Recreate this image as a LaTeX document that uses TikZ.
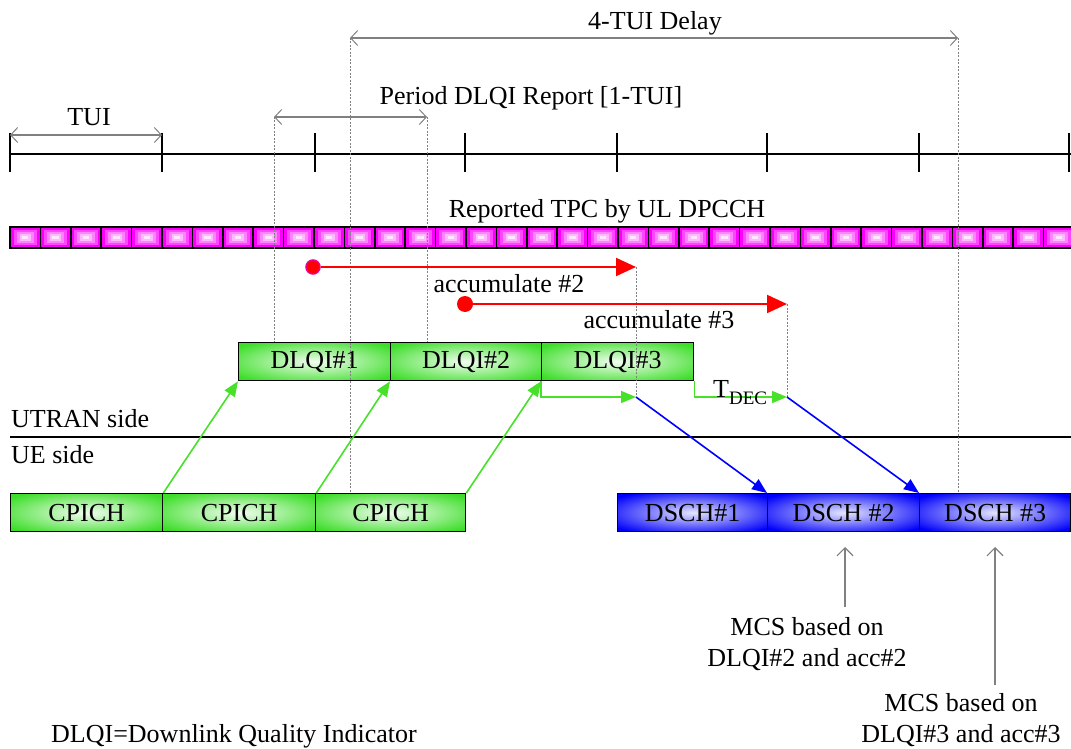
\documentclass[tikz,border=0pt]{standalone}
\usepackage{fontspec}
\setmainfont{Liberation Serif}
\usetikzlibrary{arrows.meta}
\definecolor{boxgreen}{RGB}{60,222,40}
\definecolor{boxblue}{RGB}{0,0,250}
\definecolor{linegreen}{RGB}{70,225,40}
\definecolor{tpcA}{RGB}{250,0,250}
\definecolor{tpcB}{RGB}{255,70,255}
\definecolor{tpcC}{RGB}{255,130,255}
\definecolor{tpcD}{RGB}{255,185,255}
\definecolor{tpcE}{RGB}{255,230,255}
\begin{document}
\begin{tikzpicture}[x=1pt,y=-1pt,
  font=\fontsize{26}{31}\selectfont,
  greenslot/.style={draw=black, line width=1.3pt, fill=boxgreen,
    minimum height=38pt, inner sep=0pt, anchor=north west,
    path picture={\shade[inner color=boxgreen!6!white, outer color=boxgreen]
      (path picture bounding box.center) ellipse [x radius=98pt, y radius=24pt];}},
  blueslot/.style={draw=black, line width=1.3pt, fill=boxblue,
    minimum height=38pt, inner sep=0pt, anchor=north west,
    path picture={\shade[inner color=boxblue!10!white, outer color=boxblue]
      (path picture bounding box.center) ellipse [x radius=98pt, y radius=24pt];}},
  guide/.style={draw=gray, line width=1pt, dash pattern=on 2pt off 1.5pt},
  span/.style={draw=gray, line width=1.2pt,
    {Straight Barb[length=7pt,width=15pt,line width=1pt]}-{Straight Barb[length=7pt,width=15pt,line width=1pt]}},
  pointer/.style={draw=gray, line width=1.6pt,
    -{Straight Barb[length=8pt,width=16pt,line width=1.2pt]}},
  redarrow/.style={draw=red, line width=2pt, -{Triangle[length=20pt,width=18pt]}},
  greenarrow/.style={draw=linegreen, line width=1.6pt, -{Triangle[length=15pt,width=12pt]}},
  bluearrow/.style={draw=blue, line width=1.6pt, -{Triangle[length=15pt,width=12pt]}},
  label/.style={inner sep=0pt}
]
\useasboundingbox (0,0) rectangle (1071,749);
\clip (0,0) rectangle (1071,749);

% --- time axis with TUI ticks ---
\coordinate (ax0) at (10,154);
\coordinate (ax1) at (1071,154);
\draw[line width=1.5pt] (ax0) -- (ax1);
\foreach \t in {10,162,315,465,617,767,919,1069}
  \draw[line width=1.5pt] (\t,133) -- (\t,172);

% --- span markers ---
\coordinate (tuiA) at (10,135);
\coordinate (tuiB) at (162,135);
\draw[span] (tuiA) -- (tuiB);
\node[label] (tui) at (89,117) {TUI};

\coordinate (perA) at (274,117);
\coordinate (perB) at (427,117);
\draw[span] (perA) -- (perB);
\node[label] (per) at (531,98) {Period DLQI Report [1-TUI]};

\coordinate (delA) at (350,38);
\coordinate (delB) at (958,38);
\draw[span] (delA) -- (delB);
\node[label] (del) at (655,23) {4-TUI Delay};

% --- TPC commands on UL DPCCH ---
\node[label] (tpc) at (607,211) {Reported TPC by UL DPCCH};
\foreach \i in {0,...,34}{
  \pgfmathsetmacro\xa{10+\i*30.4}
  \begin{scope}[shift={(\xa,227)}]
    \fill[tpcA] (0,0) rectangle (30.4,21);
    \fill[tpcB] (3.5,3) rectangle (26.9,18);
    \fill[tpcC] (6.5,5) rectangle (23.9,16);
    \fill[tpcD] (9.5,7) rectangle (20.9,14);
    \fill[tpcE] (12,9) rectangle (18.4,12);
    \draw[line width=1.6pt] (0,0) rectangle (30.4,21);
  \end{scope}}

% --- UTRAN / UE boundary ---
\coordinate (sideA) at (10,437);
\coordinate (sideB) at (1071,437);
\draw[line width=1.5pt] (sideA) -- (sideB);
\node[label, anchor=west] (utran) at (11,419) {UTRAN side};
\node[label, anchor=west] (ue) at (11,455) {UE side};

% --- channel slots ---
\node[greenslot, minimum width=152pt] (dl1) at (238,342) {DLQI\#1};
\node[greenslot, minimum width=151pt] (dl2) at (390,342) {DLQI\#2};
\node[greenslot, minimum width=152pt] (dl3) at (541,342) {DLQI\#3};

\node[greenslot, minimum width=152pt] (cp1) at (10,493) {CPICH};
\node[greenslot, minimum width=153pt] (cp2) at (162,493) {CPICH};
\node[greenslot, minimum width=150pt] (cp3) at (315,493) {CPICH};

\node[blueslot, minimum width=150pt] (ds1) at (617,493) {DSCH\#1};
\node[blueslot, minimum width=152pt] (ds2) at (767,493) {DSCH \#2};
\node[blueslot, minimum width=151pt] (ds3) at (919,493) {DSCH \#3};

% --- dashed guides ---
\draw[guide] (delA) -- (delA |- cp3.north);
\draw[guide] (delB) -- (delB |- ds3.north);
\draw[guide] (perA) -- (perA |- dl1.north);
\draw[guide] (perB) -- (perB |- dl2.north);

\coordinate (acc2end) at (636,267);
\coordinate (acc3end) at (787,304);
\coordinate (dec2) at (636,397);
\coordinate (dec3) at (787,397);
\draw[guide] (acc2end) -- (dec2);
\draw[guide] (acc3end) -- (dec3);

% --- TPC accumulation ---
\node[circle, fill=red, draw=magenta, line width=1.5pt, minimum size=14pt, inner sep=0pt] (acc2start) at (313,267) {};
\draw[redarrow] (acc2start) -- (acc2end);
\node[label] (acc2) at (509,284) {accumulate \#2};

\node[circle, fill=red, minimum size=16pt, inner sep=0pt] (acc3start) at (465,304) {};
\draw[redarrow] (acc3start) -- (acc3end);
\node[label] (acc3) at (659,320) {accumulate \#3};

% --- CPICH measurement to DLQI report ---
\draw[greenarrow] (cp1.north east) -- (dl1.south west);
\draw[greenarrow] (cp2.north east) -- (dl2.south west);
\draw[greenarrow] (cp3.north east) -- (dl3.south west);

% --- DLQI to scheduling ---
\draw[greenarrow] (dl3.south west) |- (dec2);
\draw[greenarrow] (dl3.south east) |- (dec3);
\node[label, anchor=base west] (tdec) at (713,397) {T\raisebox{-7pt}{\fontsize{19}{19}\selectfont DEC}};
\draw[bluearrow] (dec2) -- (ds2.north west);
\draw[bluearrow] (dec3) -- (ds3.north west);

% --- MCS notes ---
\coordinate (mcs2a) at (845,607);
\coordinate (mcs2b) at (845,547);
\draw[pointer] (mcs2a) -- (mcs2b);
\node[label, align=center] (mcs2) at (807,644) {MCS based on\\DLQI\#2 and acc\#2};

\coordinate (mcs3a) at (995,685);
\coordinate (mcs3b) at (995,547);
\draw[pointer] (mcs3a) -- (mcs3b);
\node[label, align=center] (mcs3) at (961,720) {MCS based on\\DLQI\#3 and acc\#3};

% --- legend ---
\node[label, anchor=base] (legend) at (234,742) {DLQI=Downlink Quality Indicator};
\end{tikzpicture}
\end{document}
